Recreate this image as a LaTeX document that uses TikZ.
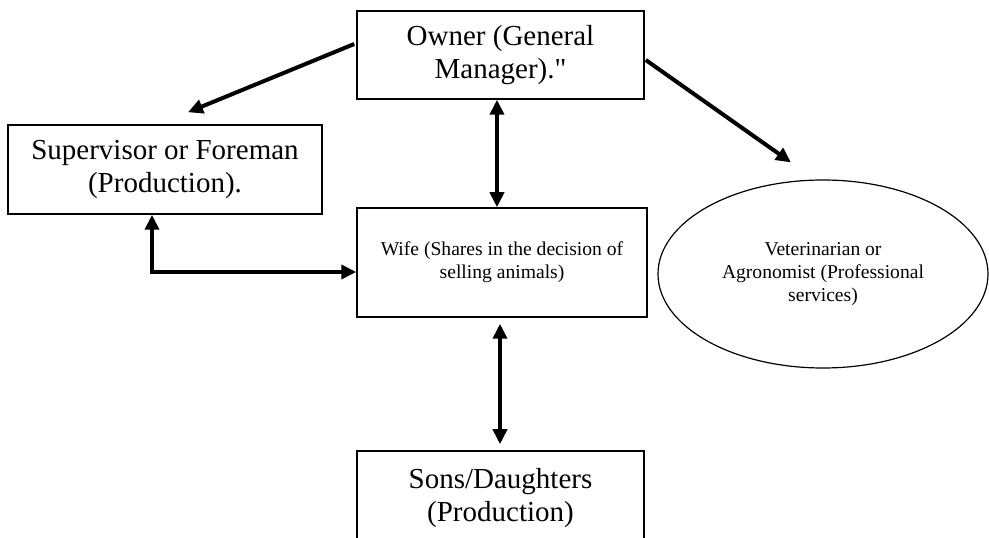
\documentclass[tikz,border=0pt]{standalone}
\usepackage{fontspec}
\setmainfont{Liberation Serif}[Ligatures=TeXOff]
\usepackage{tikz}
\usetikzlibrary{positioning,arrows.meta,calc,shapes.geometric}

\begin{document}
\begin{tikzpicture}[
  x=1pt, y=1pt,
  bigbox/.style={draw, line width=1.5pt, align=center, font=\fontsize{29}{33}\selectfont},
  smallbox/.style={draw, line width=1.5pt, align=center, font=\fontsize{19.6}{23}\selectfont},
  arr/.style={-{Triangle[length=15pt,width=14pt]}, line width=4pt},
  dbl/.style={{Triangle[length=15pt,width=14pt]}-{Triangle[length=15pt,width=14pt]}, line width=4pt}
]
\useasboundingbox (0,0) rectangle (989,538);
\clip (0,0) rectangle (989,538);
% --- boxes ---
\node[bigbox, minimum width=287pt, minimum height=88pt] (owner) at (500.5,483)
  {Owner (General\\Manager)."};
\node[bigbox, minimum width=314pt, minimum height=89pt] (super) at (165,368.5)
  {Supervisor or Foreman\\(Production).};
\node[smallbox, minimum width=290pt, minimum height=109pt] (wife) at (502,275.5)
  {Wife (Shares in the decision of\\selling animals)};
\node[smallbox, ellipse, line width=1.2pt, minimum width=330pt, minimum height=188pt, inner sep=0pt] (vet) at (823,264)
  {Veterinarian or\\Agronomist (Professional\\services)};
\node[bigbox, minimum width=287pt, minimum height=95pt] (sons) at (500.5,39.5)
  {Sons/Daughters\\(Production)};
% --- connectors ---
\draw[arr] ([xshift=-2pt,yshift=11pt]owner.west) -- ([xshift=23pt,yshift=12pt]super.north);
\draw[arr] ([xshift=1pt,yshift=-5pt]owner.east) -- ([xshift=-32pt,yshift=17pt]vet.north);
\draw[dbl] ([xshift=-3.5pt]owner.south) -- ([xshift=-3.5pt]owner.south |- wife.north);
\draw[dbl] ([xshift=-13pt]super.south) |- ([yshift=-9.5pt]wife.west);
\draw[dbl, shorten >=6pt, shorten <=6pt] ([xshift=-2pt]wife.south) -- ([xshift=-2pt]wife.south |- sons.north);
\end{tikzpicture}
\end{document}
